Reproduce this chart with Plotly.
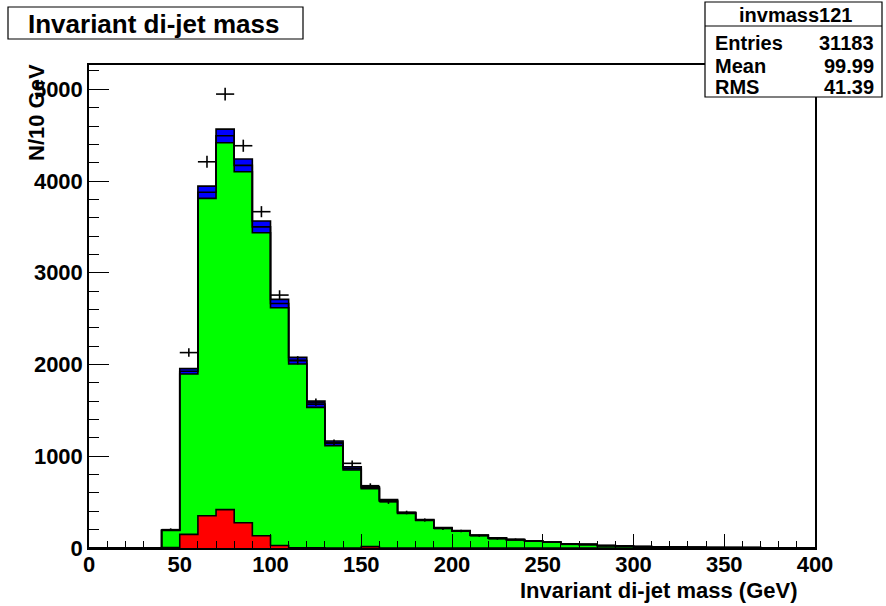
import numpy as np
import plotly.graph_objects as go

# ---- data (10 GeV bins from 0 to 400) ----
bin_edges = list(range(0, 410, 10))
red_vals = [0, 0, 0, 0, 6, 149, 352, 418, 276, 134,
            27, 3, 1, 0, 0, 15, 0, 0, 0, 0,
            0, 0, 0, 0, 0, 0, 0, 0, 0, 0,
            0, 0, 0, 0, 0, 0, 0, 0, 0, 0]
green_vals = [0, 0, 0, 0, 184, 1747, 3459, 4000, 3825, 3303,
              2592, 2002, 1532, 1115, 850, 631, 509, 377, 299, 216,
              184, 137, 106, 89, 76, 63, 45, 38, 26, 21,
              15, 12, 10, 8, 6, 5, 4, 3, 2, 2]
blue_low_vals = [0, 0, 0, 0, 3, 30, 67, 75, 70, 64,
                 46, 37, 35, 26, 18, 11, 9, 7, 5, 4,
                 3, 2, 2, 2, 1, 1, 1, 1, 1, 1,
                 0, 0, 0, 0, 0, 0, 0, 0, 0, 0]
blue_high_vals = [0, 0, 0, 0, 3, 29, 67, 73, 69, 63,
                  45, 36, 34, 25, 18, 11, 9, 6, 5, 4,
                  3, 2, 2, 1, 1, 1, 1, 1, 0, 0,
                  0, 0, 0, 0, 0, 0, 0, 0, 0, 0]
data_vals = [0, 0, 0, 0, 200, 2130, 4210, 4948, 4385, 3666,
             2757, 2046, 1590, 1148, 923, 679, 503, 387, 305, 212,
             186, 134, 100, 94, 75, 63, 40, 38, 24, 20,
             14, 10, 9, 7, 5, 4, 3, 2, 2, 1]

stats_name = "invmass121"
stats_rows = [("Entries", "31183"), ("Mean", "99.99"), ("RMS", "41.39")]

FONT = "Liberation Sans, Arial, Helvetica, sans-serif"

edges = np.array(bin_edges, dtype=float)
centers = (edges[:-1] + edges[1:]) / 2
half_w = (edges[1:] - edges[:-1]) / 2

layers = [
    (red_vals, "#ff0000"),
    (green_vals, "#00ff00"),
    (blue_low_vals, "#0000ff"),
    (blue_high_vals, "#0000ff"),
]

fig = go.Figure()
cum = np.zeros(len(centers))
for i, (vals, col) in enumerate(layers):
    cum = cum + np.array(vals, dtype=float)
    ystep = list(cum) + [cum[-1]]
    fig.add_trace(go.Scatter(
        x=edges, y=ystep, mode="lines",
        line=dict(shape="hv", color="black", width=1.6),
        fill="tozeroy" if i == 0 else "tonexty",
        fillcolor=col, hoverinfo="skip", showlegend=False))

d = np.array(data_vals, dtype=float)
mask = d > 0
fig.add_trace(go.Scatter(
    x=centers[mask], y=d[mask], mode="markers",
    marker=dict(size=0.1, color="black"),
    error_x=dict(type="data", array=half_w[mask], width=0, thickness=1.6, color="black"),
    error_y=dict(type="data", array=np.sqrt(d[mask]), width=0, thickness=1.6, color="black"),
    showlegend=False))

# ---- layout geometry (pixels -> paper) ----
W, H = 886, 606
L, R, T, B = 89, 71, 65, 58
pw, ph = W - L - R, H - T - B


def px(x):
    return (x - L) / pw


def py(y):
    return (H - B - y) / ph


shapes = [
    dict(type="rect", xref="paper", yref="paper", x0=px(8), x1=px(303), y0=py(39), y1=py(7),
         line=dict(color="black", width=1.2), fillcolor="white", layer="above"),
    dict(type="rect", xref="paper", yref="paper", x0=px(705), x1=px(882), y0=py(97), y1=py(2),
         line=dict(color="black", width=1.2), fillcolor="white", layer="above"),
    dict(type="line", xref="paper", yref="paper", x0=px(705), x1=px(882), y0=py(26), y1=py(26),
         line=dict(color="black", width=1.2), layer="above"),
]

annotations = [
    dict(text="Invariant di-jet mass", xref="paper", yref="paper", x=px(153), y=py(24),
         xanchor="center", yanchor="middle", showarrow=False,
         font=dict(family=FONT, size=26, color="black", weight="bold")),
    dict(text=stats_name, xref="paper", yref="paper", x=px(795), y=py(15), xanchor="center",
         yanchor="middle", showarrow=False,
         font=dict(family=FONT, size=20, color="black", weight="bold")),
    dict(text="Invariant di-jet mass (GeV)", xref="paper", yref="paper", x=px(800), y=py(590),
         xanchor="right", yanchor="middle", showarrow=False,
         font=dict(family=FONT, size=22, color="black", weight="bold")),
    dict(text="N/10 GeV", xref="paper", yref="paper", x=px(37), y=py(113), textangle=-90,
         xanchor="center", yanchor="middle", showarrow=False,
         font=dict(family=FONT, size=22, color="black", weight="bold")),
]
row_y = [43, 66, 87]
for (lab, val), yy in zip(stats_rows, row_y):
    annotations.append(dict(text=lab, xref="paper", yref="paper", x=px(713), y=py(yy),
                            xanchor="left", yanchor="middle", showarrow=False,
                            font=dict(family=FONT, size=20, color="black", weight="bold")))
    annotations.append(dict(text=val, xref="paper", yref="paper", x=px(876), y=py(yy),
                            xanchor="right", yanchor="middle", showarrow=False,
                            font=dict(family=FONT, size=20, color="black", weight="bold")))

fig.update_layout(
    width=W, height=H,
    margin=dict(l=L, r=R, t=T, b=B, pad=0),
    paper_bgcolor="white", plot_bgcolor="white",
    showlegend=False,
    shapes=shapes, annotations=annotations,
    xaxis=dict(range=[0, 400], tick0=0, dtick=50, ticks="inside", ticklen=14, tickwidth=1.2,
               tickcolor="black", showgrid=False, zeroline=False, showline=True,
               linecolor="black", linewidth=1.5, mirror=True, ticklabelstandoff=-4,
               tickfont=dict(family=FONT, size=22, color="black", weight="bold"),
               minor=dict(dtick=10, ticks="inside", ticklen=7, tickwidth=1.2, tickcolor="black",
                          showgrid=False)),
    yaxis=dict(range=[0, 5265], tick0=0, dtick=1000, ticks="inside", ticklen=20, tickwidth=1.2,
               tickcolor="black", showgrid=False, zeroline=False, showline=True,
               linecolor="black", linewidth=1.5, mirror=True,
               tickfont=dict(family=FONT, size=22, color="black", weight="bold"),
               minor=dict(dtick=200, ticks="inside", ticklen=10, tickwidth=1.2, tickcolor="black",
                          showgrid=False)),
)

fig.write_html("out.html")
